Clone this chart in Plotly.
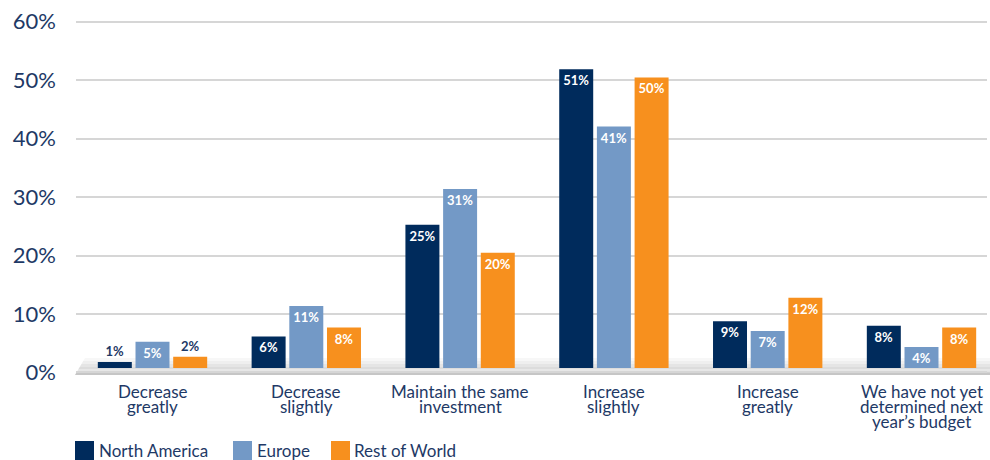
import plotly.graph_objects as go

# ---------------- data ----------------
categories = ["Decrease<br>greatly", "Decrease<br>slightly", "Maintain the same<br>investment",
              "Increase<br>slightly", "Increase<br>greatly", "We have not yet<br>determined next<br>year’s budget"]
series_names = ["North America", "Europe", "Rest of World"]
north_america = [1.0, 5.4, 24.5, 51.1, 8.0, 7.2]
europe = [4.5, 10.6, 30.6, 41.3, 6.3, 3.6]
rest_of_world = [1.9, 6.9, 19.7, 49.7, 12.0, 6.9]
na_labels = ["1%", "6%", "25%", "51%", "9%", "8%"]
eu_labels = ["5%", "11%", "31%", "41%", "7%", "4%"]
row_labels = ["2%", "8%", "20%", "50%", "12%", "8%"]
y_ticks = [0, 10, 20, 30, 40, 50, 60]
y_tick_labels = ["0%", "10%", "20%", "30%", "40%", "50%", "60%"]

# ---------------- style ----------------
W, H = 990, 460
colors = ["#002b5c", "#7399c6", "#f7901e"]
navy_text = "#1e3966"
FONT = "Lato"
L, R, T, B = 76, 3, 10, 82
plot_w = W - L - R
plot_h = H - T - B
PX_PER_UNIT = 5.846
y_top = 62.0
y_bot = y_top - plot_h / PX_PER_UNIT
bar_shift = 4.5 / PX_PER_UNIT  # bars sit slightly above the 0% grid line (floor perspective)
cat_px0, cat_step = 152.5, 153.8
x_lo = (L - cat_px0) / cat_step
x_hi = (W - R - cat_px0) / cat_step

xs = list(range(len(categories)))

fig = go.Figure()
# invisible trace so the gridded base axis pair (x, y) is drawn
fig.add_trace(go.Scatter(x=[xs[0]], y=[y_ticks[0]], mode="markers", marker=dict(opacity=0),
                         showlegend=False, hoverinfo="skip"))
for name, vals, labs, col in zip(series_names, [north_america, europe, rest_of_world],
                                 [na_labels, eu_labels, row_labels], colors):
    positions = ["outside" if v < 2.5 else "inside" for v in vals]
    tcolors = [navy_text if p == "outside" else "white" for p in positions]
    fig.add_trace(go.Bar(
        x=xs, y=vals, name=name, marker=dict(color=col, line=dict(width=0)),
        text=labs, textposition=positions, insidetextanchor="end",
        textfont=dict(family=FONT, size=13, color=tcolors, weight="bold"),
        outsidetextfont=dict(family=FONT, size=13, color=navy_text, weight="bold"),
        cliponaxis=False, yaxis="y2", showlegend=False,
    ))


def px_x(px):
    return (px - L) / plot_w


def px_y(py):
    return (H - B - py) / plot_h


# floor (gradient strips of a slanted plane)
strips = [(358, 361, "#f7f7f7"), (361, 364, "#efefef"), (364, 367, "#e5e5e5"),
          (367, 369, "#dcdcdc"), (369, 371.5, "#e7e7e7"), (371.5, 373, "#d2d2d2"),
          (373, 375, "#c6c6c6")]
shapes = []
for top, bot, c in strips:
    lx_top = 75 + (375 - top) * 10 / 17
    lx_bot = 75 + (375 - bot) * 10 / 17
    path = (f"M {px_x(lx_bot)} {px_y(bot)} L {px_x(lx_top)} {px_y(top)} "
            f"L {px_x(990)} {px_y(top)} L {px_x(990)} {px_y(bot)} Z")
    shapes.append(dict(type="path", xref="paper", yref="paper", path=path,
                       fillcolor=c, line=dict(width=0), layer="below"))

annotations = []
# category labels, one annotation per line for the reference's tight line pitch
LINE_PITCH = 15.3
for i, cat in enumerate(categories):
    for j, line in enumerate(cat.split("<br>")):
        annotations.append(dict(x=i, xref="x", y=px_y(391 + j * LINE_PITCH), yref="paper",
                                yanchor="middle", text=line, showarrow=False, align="center",
                                borderpad=0,
                                font=dict(family=FONT, size=17, color=navy_text)))

# custom legend
legend_sq_x = [75, 233, 331]
legend_txt_x = [97, 255, 352]
for name, col, sx, tx in zip(series_names, colors, legend_sq_x, legend_txt_x):
    shapes.append(dict(type="rect", xref="paper", yref="paper",
                       x0=px_x(sx), x1=px_x(sx + 19), y0=px_y(460), y1=px_y(441),
                       fillcolor=col, line=dict(width=0)))
    annotations.append(dict(x=px_x(tx), xref="paper", y=px_y(450.5), yref="paper",
                            xanchor="left", yanchor="middle", text=name, showarrow=False,
                            font=dict(family=FONT, size=17, color=navy_text)))

fig.update_layout(
    width=W, height=H,
    margin=dict(l=L, r=R, t=T, b=B),
    paper_bgcolor="white", plot_bgcolor="white",
    barmode="group", bargap=0.265, bargroupgap=0.098,
    font=dict(family=FONT, color=navy_text),
    shapes=shapes, annotations=annotations,
    xaxis=dict(range=[x_lo, x_hi], showticklabels=False, showgrid=False,
               zeroline=False, showline=False),
    yaxis=dict(range=[y_bot, y_top], tickvals=y_ticks, ticktext=y_tick_labels,
               showgrid=True, gridcolor="#d6d6d6", gridwidth=2, zeroline=False,
               showline=False, ticks="", ticklabelstandoff=19,
               tickfont=dict(family=FONT, size=22, color=navy_text)),
    yaxis2=dict(range=[y_bot - bar_shift, y_top - bar_shift], overlaying="y",
                visible=False, showgrid=False, zeroline=False),
    uniformtext=dict(mode="show", minsize=13),
    hovermode=False,
)

fig.write_html("out.html")
